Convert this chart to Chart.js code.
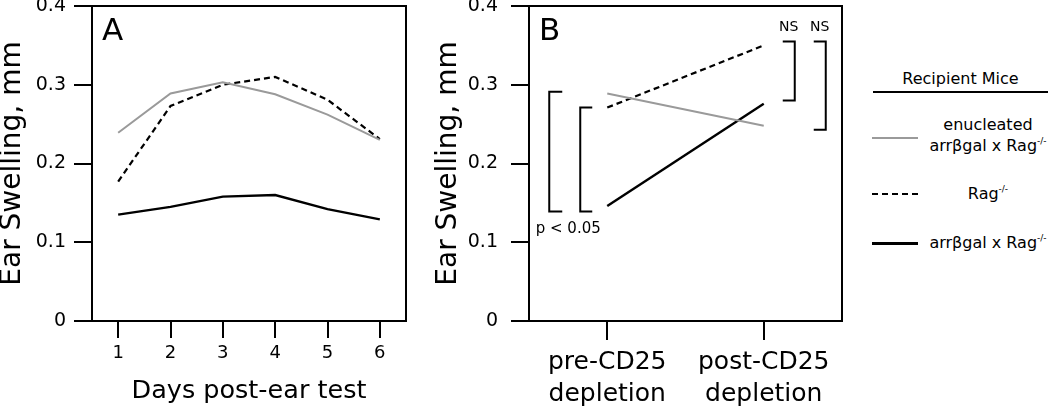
<!DOCTYPE html>
<html>
<head>
<meta charset="utf-8">
<script src="https://cdn.jsdelivr.net/npm/chart.js@4.4.0/dist/chart.umd.min.js"></script>
<style>
  body { margin: 0; background: #fff; width: 1050px; height: 407px; overflow: hidden; position: relative;
         font-family: "DejaVu Sans", sans-serif; color: #000; }
  #wrapA { position: absolute; left: 0; top: 0; }
  #wrapB { position: absolute; left: 430px; top: 0; }
  .lg { position: absolute; }
  .ltitle { left: 873px; top: 69px; width: 175px; text-align: center; font-size: 16px; line-height: 20px; }
  .rule { left: 873px; top: 91px; width: 175px; height: 2px; background: #000; }
  .sample { left: 872px; width: 46px; height: 2px; }
  .ltext { left: 924px; width: 128px; text-align: center; font-size: 16px; line-height: 21px; }
  sup { font-size: 9px; vertical-align: 0; position: relative; top: -7px; }
</style>
</head>
<body>
<div id="wrapA"><canvas id="chartA" width="412" height="407"></canvas></div>
<div id="wrapB"><canvas id="chartB" width="420" height="407"></canvas></div>

<div class="lg ltitle">Recipient Mice</div>
<div class="lg rule"></div>
<div class="lg sample" style="top:137px;background:#9a9a9a;"></div>
<div class="lg ltext" style="top:114px;">enucleated<br>arrβgal x Rag<sup>-/-</sup></div>
<div class="lg sample" style="top:193px;background:repeating-linear-gradient(to right,#000 0 6px,transparent 6px 10px);"></div>
<div class="lg ltext" style="top:183px;">Rag<sup>-/-</sup></div>
<div class="lg sample" style="top:242px;height:2.5px;background:#000;"></div>
<div class="lg ltext" style="top:232px;">arrβgal x Rag<sup>-/-</sup></div>

<script>
// panel A: days after ear challenge
const days = ['1', '2', '3', '4', '5', '6'];
const enucleatedA = [0.239, 0.289, 0.303, 0.288, 0.262, 0.230];
const ragA = [0.177, 0.273, 0.300, 0.310, 0.281, 0.231];
const arrA = [0.135, 0.145, 0.158, 0.160, 0.142, 0.129];

// panel B: before / after CD25 depletion
const phases = [['pre-CD25', 'depletion'], ['post-CD25', 'depletion']];
const enucleatedB = [0.289, 0.248];
const ragB = [0.271, 0.350];
const arrB = [0.146, 0.276];

const yTicks = [0, 0.1, 0.2, 0.3, 0.4];

const FONT = '"DejaVu Sans", sans-serif';
const GRAY = '#9a9a9a';

function lines(a, b, c) {
  return [
    { data: a, borderColor: GRAY, borderWidth: 2 },
    { data: b, borderColor: '#000', borderWidth: 2.2, borderDash: [6, 4] },
    { data: c, borderColor: '#000', borderWidth: 2.4 }
  ].map(function (d) {
    return Object.assign(d, { pointRadius: 0, tension: 0, fill: false });
  });
}

// top/right box edges + panel letter
const frame = {
  id: 'frame',
  afterDatasetsDraw(chart, args, opts) {
    const ctx = chart.ctx, a = chart.chartArea;
    ctx.save();
    ctx.strokeStyle = '#000';
    ctx.lineWidth = 2;
    ctx.beginPath();
    ctx.moveTo(a.left, a.top);
    ctx.lineTo(a.right, a.top);
    ctx.lineTo(a.right, a.bottom);
    ctx.stroke();
    ctx.fillStyle = '#000';
    ctx.font = '31px ' + FONT;
    ctx.textBaseline = 'alphabetic';
    ctx.fillText(opts.letter, a.left + 10, a.top + 34);
    ctx.restore();
  }
};

// significance brackets for panel B
const brackets = [
  { cat: 0, dx: -58, arm: 13, from: 0.291, to: 0.139 },
  { cat: 0, dx: -27, arm: 12, from: 0.271, to: 0.139 },
  { cat: 1, dx: 31, arm: -12, from: 0.355, to: 0.280 },
  { cat: 1, dx: 62, arm: -12, from: 0.355, to: 0.243 }
];
const notes = [
  { cat: 0, dx: -39, y: 0.117, text: 'p < 0.05', size: 15 },
  { cat: 1, dx: 25, y: 0.373, text: 'NS', size: 14 },
  { cat: 1, dx: 56, y: 0.373, text: 'NS', size: 14 }
];

const sigPlugin = {
  id: 'sig',
  afterDatasetsDraw(chart) {
    const ctx = chart.ctx, x = chart.scales.x, y = chart.scales.y;
    ctx.save();
    ctx.strokeStyle = '#000';
    ctx.lineWidth = 2;
    brackets.forEach(function (b) {
      const bx = x.getPixelForValue(b.cat) + b.dx;
      const y1 = y.getPixelForValue(b.from), y2 = y.getPixelForValue(b.to);
      ctx.beginPath();
      ctx.moveTo(bx + b.arm, y1);
      ctx.lineTo(bx, y1);
      ctx.lineTo(bx, y2);
      ctx.lineTo(bx + b.arm, y2);
      ctx.stroke();
    });
    ctx.fillStyle = '#000';
    ctx.textAlign = 'center';
    ctx.textBaseline = 'middle';
    notes.forEach(function (n) {
      ctx.font = n.size + 'px ' + FONT;
      ctx.fillText(n.text, x.getPixelForValue(n.cat) + n.dx, y.getPixelForValue(n.y));
    });
    ctx.restore();
  }
};

function axisStyle(tl) {
  return {
    border: { display: true, color: '#000', width: 2 },
    grid: { drawOnChartArea: false, drawTicks: true, tickLength: tl, tickColor: '#000', tickWidth: 2, color: '#000', lineWidth: 2 }
  };
}

function makeY(width, pad, titlePad) {
  return Object.assign(axisStyle(18), {
    type: 'linear', min: 0, max: 0.4,
    afterBuildTicks: function (s) { s.ticks = yTicks.map(function (v) { return { value: v }; }); },
    afterFit: function (s) { s.width = width; s.paddingTop = 0; s.paddingBottom = 0; },
    ticks: {
      color: '#000', padding: pad, font: { family: FONT, size: 19 },
      callback: function (v) { return v === 0 ? '0' : v.toFixed(1); }
    },
    title: { display: true, text: 'Ear Swelling, mm', color: '#000', font: { family: FONT, size: 28 }, padding: { top: titlePad, bottom: 0 } }
  });
}

function fitX(s) { s.height = 86; s.paddingLeft = 0; s.paddingRight = 0; }

Chart.defaults.font.family = FONT;

new Chart(document.getElementById('chartA'), {
  type: 'line',
  data: { labels: days, datasets: lines(enucleatedA, ragA, arrA) },
  options: {
    responsive: false, animation: false,
    layout: { padding: { top: 6, right: 6, left: 0, bottom: 0 } },
    plugins: { legend: { display: false }, tooltip: { enabled: false }, frame: { letter: 'A' } },
    scales: {
      x: Object.assign(axisStyle(17), {
        type: 'category', offset: true,
        afterFit: fitX,
        ticks: { color: '#000', padding: 5, maxRotation: 0, font: { family: FONT, size: 18 } },
        title: { display: true, text: 'Days post-ear test', color: '#000', font: { family: FONT, size: 25.5 }, padding: { top: 0, bottom: 0 } }
      }),
      y: makeY(92, 8, -4)
    }
  },
  plugins: [frame]
});

new Chart(document.getElementById('chartB'), {
  type: 'line',
  data: { labels: phases, datasets: lines(enucleatedB, ragB, arrB) },
  options: {
    responsive: false, animation: false,
    layout: { padding: { top: 6, right: 8, left: 0, bottom: 0 } },
    plugins: { legend: { display: false }, tooltip: { enabled: false }, frame: { letter: 'B' } },
    scales: {
      x: Object.assign(axisStyle(19), {
        type: 'category', offset: true,
        afterFit: fitX,
        ticks: { color: '#000', padding: 6, maxRotation: 0, font: { family: FONT, size: 25, lineHeight: 1.3 } }
      }),
      y: makeY(99, 13, 2)
    }
  },
  plugins: [frame, sigPlugin]
});
</script>
</body>
</html>
